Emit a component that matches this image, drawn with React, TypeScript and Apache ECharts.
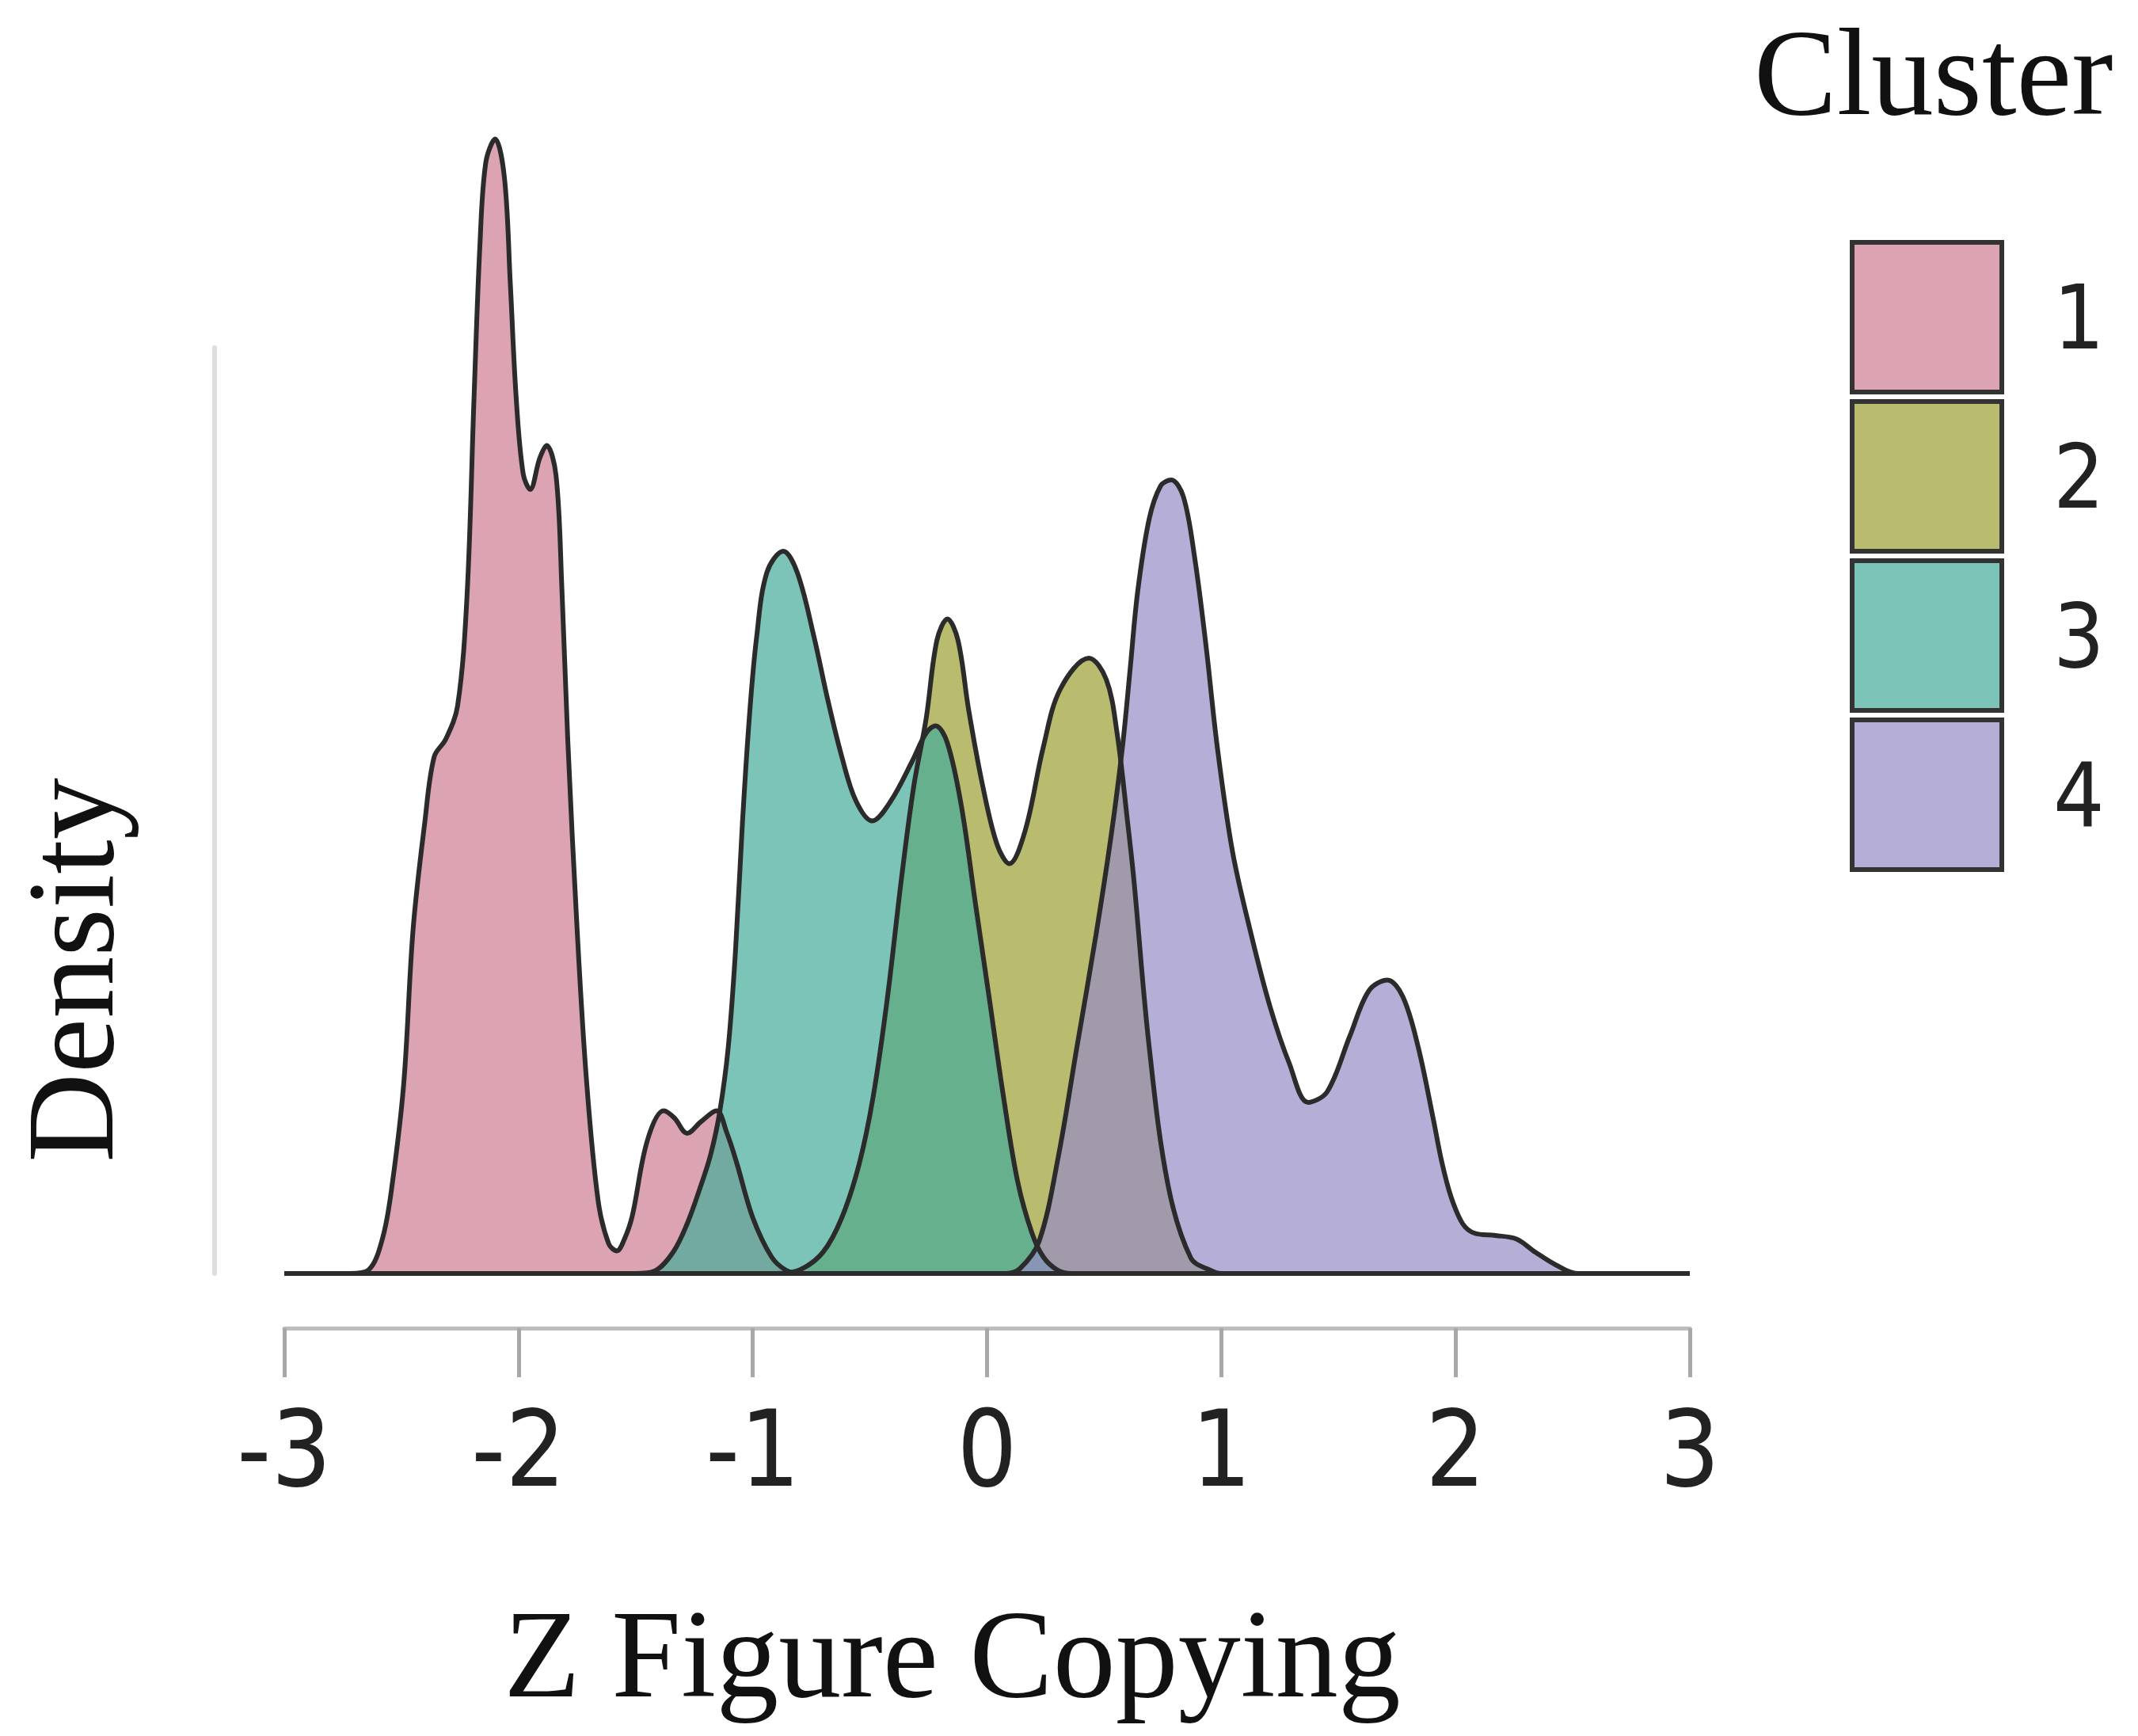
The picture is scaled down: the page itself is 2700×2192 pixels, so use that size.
import React, { useEffect, useRef } from "react";
import * as echarts from "echarts";

const clusterNames = ["1", "2", "3", "4"];

const cluster1: [number, number][] = [
  [-3, 0], [-2.72, 0], [-2.64, 0.003], [-2.58, 0.03], [-2.54, 0.074], [-2.49, 0.16],
  [-2.45, 0.29], [-2.4, 0.38], [-2.36, 0.435], [-2.31, 0.45], [-2.26, 0.478],
  [-2.22, 0.57], [-2.19, 0.737], [-2.165, 0.865], [-2.14, 0.935], [-2.1, 0.955],
  [-2.06, 0.922], [-2.035, 0.833], [-2.01, 0.737], [-1.98, 0.673], [-1.95, 0.66],
  [-1.91, 0.686], [-1.88, 0.697], [-1.84, 0.672], [-1.815, 0.577], [-1.79, 0.45],
  [-1.75, 0.29], [-1.71, 0.163], [-1.66, 0.061], [-1.615, 0.025], [-1.58, 0.019],
  [-1.55, 0.028], [-1.515, 0.048], [-1.45, 0.112], [-1.38, 0.137], [-1.335, 0.131],
  [-1.28, 0.118], [-1.22, 0.128], [-1.155, 0.137], [-1.11, 0.118], [-1.07, 0.094],
  [-1.0, 0.047], [-0.92, 0.014], [-0.86, 0.003], [-0.8, 0], [3, 0],
];

const cluster2: [number, number][] = [
  [-3, 0], [-0.9, 0], [-0.8, 0.003], [-0.7, 0.018], [-0.62, 0.047], [-0.546, 0.092],
  [-0.486, 0.149], [-0.426, 0.231], [-0.365, 0.333], [-0.313, 0.41], [-0.26, 0.467],
  [-0.214, 0.533], [-0.169, 0.551], [-0.124, 0.533], [-0.079, 0.475], [-0.018, 0.41],
  [0.043, 0.361], [0.095, 0.345], [0.163, 0.373], [0.24, 0.443], [0.313, 0.492],
  [0.435, 0.518], [0.509, 0.5], [0.555, 0.455], [0.6, 0.38], [0.627, 0.331],
  [0.692, 0.191], [0.773, 0.074], [0.87, 0.013], [0.95, 0.003], [1.0, 0], [3, 0],
];

const cluster3: [number, number][] = [
  [-3, 0], [-1.5, 0], [-1.42, 0.002], [-1.34, 0.018], [-1.28, 0.042], [-1.22, 0.075],
  [-1.18, 0.1], [-1.142, 0.135], [-1.105, 0.19], [-1.074, 0.271], [-1.044, 0.38],
  [-1.014, 0.47], [-0.984, 0.535], [-0.94, 0.59], [-0.87, 0.608], [-0.81, 0.59],
  [-0.74, 0.537], [-0.68, 0.483], [-0.62, 0.435], [-0.56, 0.398], [-0.49, 0.381],
  [-0.41, 0.398], [-0.32, 0.431], [-0.26, 0.455], [-0.22, 0.461], [-0.17, 0.447],
  [-0.11, 0.394], [-0.05, 0.312], [0.01, 0.231], [0.07, 0.149], [0.13, 0.078],
  [0.19, 0.035], [0.24, 0.014], [0.3, 0.003], [0.36, 0], [3, 0],
];

const cluster4: [number, number][] = [
  [-3, 0], [0.08, 0], [0.14, 0.004], [0.222, 0.027], [0.303, 0.097], [0.384, 0.191],
  [0.465, 0.285], [0.53, 0.369], [0.578, 0.443], [0.611, 0.509], [0.643, 0.574],
  [0.692, 0.635], [0.741, 0.663], [0.786, 0.668], [0.838, 0.654], [0.886, 0.603],
  [0.935, 0.528], [0.983, 0.443], [1.048, 0.355], [1.128, 0.285], [1.209, 0.224],
  [1.29, 0.177], [1.371, 0.144], [1.452, 0.153], [1.549, 0.2], [1.63, 0.238],
  [1.709, 0.247], [1.775, 0.233], [1.84, 0.191], [1.905, 0.13], [1.94, 0.095],
  [1.98, 0.065], [2.03, 0.042], [2.08, 0.034], [2.17, 0.032], [2.26, 0.029],
  [2.34, 0.018], [2.43, 0.007], [2.52, 0], [3, 0],
];

const clusterData = [cluster1, cluster2, cluster3, cluster4];

const fillColors = ["rgb(205,125,145)", "rgb(155,158,49)", "rgb(68,171,154)", "rgb(149,139,196)"];
const legendColors = ["#dca4b2", "#b9bc6f", "#7cc4b8", "#b5aed6"];

export default function App() {
  const ref = useRef<HTMLDivElement>(null);

  useEffect(() => {
    if (!ref.current) return;
    const chart = echarts.init(ref.current, null, { renderer: "svg" });

    const series = clusterData.map((d, i) => ({
      type: "line",
      name: clusterNames[i],
      data: d,
      xAxisIndex: 0,
      yAxisIndex: 0,
      smooth: 0.35,
      symbol: "none",
      lineStyle: { color: "#2b2b2b", width: 6 },
      areaStyle: { color: fillColors[i], opacity: 0.7 },
      itemStyle: { color: legendColors[i] },
    }));

    chart.setOption({
      animation: false,
      backgroundColor: "#ffffff",
      title: {
        text: "Cluster",
        left: 2215,
        top: 12,
        padding: 0,
        textStyle: { fontFamily: "Liberation Serif", fontSize: 157, fontWeight: "normal", color: "#111" },
      },
      legend: {
        orient: "vertical",
        left: 2336,
        top: 303,
        padding: 0,
        itemWidth: 189,
        itemHeight: 189,
        itemGap: 6,
        icon: "rect",
        selectedMode: false,
        data: clusterNames.map((n, i) => ({
          name: n,
          icon: "rect",
          itemStyle: { color: legendColors[i], borderColor: "#333", borderWidth: 6 },
        })),
        textStyle: {
          fontFamily: "DejaVu Sans Condensed",
          fontSize: 113,
          color: "#222",
          padding: [0, 0, 0, 60],
        },
      },
      grid: [
        { left: 359, right: 566, top: 108, bottom: 584 },
        { left: 271, width: 10, top: 439, bottom: 584 },
      ],
      xAxis: [
        {
          type: "value",
          gridIndex: 0,
          min: -3,
          max: 3,
          interval: 1,
          offset: 69,
          name: "Z Figure Copying",
          nameLocation: "middle",
          nameGap: 332,
          nameTextStyle: {
            fontFamily: "Liberation Serif",
            fontSize: 158,
            color: "#111",
            padding: [0, 88, 0, 0],
          },
          axisLine: { show: true, onZero: false, lineStyle: { color: "#bdbdbd", width: 5 } },
          axisTick: { show: true, length: 62, lineStyle: { color: "#a8a8a8", width: 5 } },
          axisLabel: { fontFamily: "DejaVu Sans Condensed", fontSize: 133, color: "#222", margin: 86 },
          splitLine: { show: false },
        },
        { type: "value", gridIndex: 1, show: false, min: 0, max: 1 },
      ],
      yAxis: [
        { type: "value", gridIndex: 0, min: 0, max: 1, show: false },
        {
          type: "value",
          gridIndex: 1,
          min: 0,
          max: 1,
          axisLine: { show: true, lineStyle: { color: "#dedede", width: 6 } },
          axisTick: { show: false },
          axisLabel: { show: false },
          splitLine: { show: false },
        },
      ],
      graphic: [
        {
          type: "text",
          x: 89,
          y: 1225,
          rotation: Math.PI / 2,
          style: {
            text: "Density",
            fontFamily: "Liberation Serif",
            fontSize: 156,
            fill: "#111",
            align: "center",
            verticalAlign: "middle",
            textAlign: "center",
            textVerticalAlign: "middle",
          },
        },
      ],
      series,
    });

    return () => chart.dispose();
  }, []);

  return (
    <div
      ref={ref}
      style={{ position: "fixed", left: 0, top: 0, width: 2700, height: 2192, background: "#fff" }}
    />
  );
}
